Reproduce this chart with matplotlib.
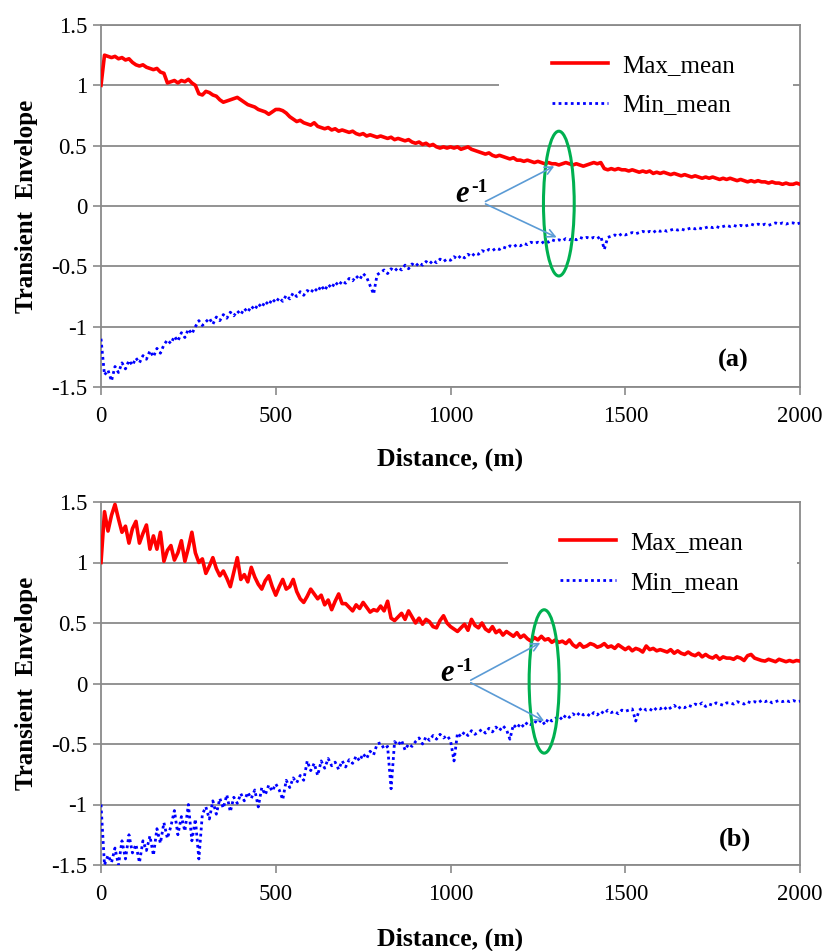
import numpy as np
import matplotlib
matplotlib.use("Agg")
import matplotlib.pyplot as plt
from matplotlib.patches import Ellipse, Rectangle

plt.rcParams['font.family'] = ['Liberation Serif', 'DejaVu Serif']

# ---------------- data ----------------
distance = np.arange(0, 2001, 10)

top_max = [
    1.00, 1.25, 1.24, 1.23, 1.24, 1.22, 1.23, 1.21, 1.22, 1.19,
    1.17, 1.16, 1.17, 1.15, 1.14, 1.13, 1.14, 1.11, 1.10, 1.02,
    1.03, 1.04, 1.02, 1.04, 1.03, 1.05, 1.02, 1.00, 0.93, 0.92,
    0.95, 0.94, 0.92, 0.91, 0.88, 0.86, 0.87, 0.88, 0.89, 0.90,
    0.88, 0.86, 0.84, 0.83, 0.82, 0.80, 0.79, 0.78, 0.76, 0.78,
    0.80, 0.80, 0.79, 0.77, 0.74, 0.72, 0.70, 0.71, 0.69, 0.68,
    0.67, 0.69, 0.66, 0.65, 0.64, 0.65, 0.63, 0.64, 0.62, 0.63,
    0.62, 0.61, 0.62, 0.60, 0.59, 0.60, 0.58, 0.59, 0.58, 0.57,
    0.58, 0.57, 0.56, 0.57, 0.55, 0.56, 0.55, 0.54, 0.55, 0.53,
    0.52, 0.53, 0.51, 0.52, 0.50, 0.51, 0.49, 0.48, 0.49, 0.48,
    0.49, 0.48, 0.49, 0.47, 0.48, 0.49, 0.47, 0.46, 0.45, 0.44,
    0.43, 0.44, 0.42, 0.41, 0.42, 0.41, 0.40, 0.39, 0.40, 0.38,
    0.38, 0.37, 0.38, 0.37, 0.36, 0.37, 0.36, 0.35, 0.36, 0.35,
    0.35, 0.34, 0.35, 0.36, 0.35, 0.34, 0.35, 0.34, 0.33, 0.34,
    0.35, 0.36, 0.35, 0.36, 0.31, 0.30, 0.31, 0.30, 0.31, 0.30,
    0.30, 0.29, 0.30, 0.29, 0.28, 0.29, 0.28, 0.29, 0.27, 0.28,
    0.27, 0.28, 0.27, 0.26, 0.27, 0.26, 0.25, 0.26, 0.25, 0.24,
    0.25, 0.24, 0.23, 0.24, 0.23, 0.24, 0.23, 0.22, 0.23, 0.22,
    0.23, 0.22, 0.21, 0.22, 0.21, 0.20, 0.21, 0.20, 0.21, 0.20,
    0.20, 0.19, 0.20, 0.19, 0.19, 0.18, 0.19, 0.18, 0.18, 0.19,
    0.18,
]

top_min = [
    -1.10, -1.40, -1.36, -1.45, -1.33, -1.38, -1.30, -1.35, -1.28, -1.32,
    -1.26, -1.30, -1.24, -1.27, -1.20, -1.25, -1.18, -1.22, -1.15, -1.11,
    -1.14, -1.08, -1.12, -1.05, -1.09, -1.02, -1.06, -1.00, -0.95, -0.99,
    -0.96, -0.93, -0.98, -0.92, -0.95, -0.90, -0.93, -0.88, -0.91, -0.87,
    -0.90, -0.85, -0.88, -0.83, -0.86, -0.81, -0.84, -0.79, -0.82, -0.77,
    -0.80, -0.76, -0.79, -0.74, -0.77, -0.72, -0.75, -0.71, -0.74, -0.70,
    -0.72, -0.68, -0.71, -0.66, -0.70, -0.65, -0.68, -0.63, -0.66, -0.62,
    -0.64, -0.60, -0.62, -0.58, -0.61, -0.56, -0.59, -0.66, -0.73, -0.57,
    -0.55, -0.53, -0.56, -0.52, -0.54, -0.51, -0.53, -0.49, -0.52, -0.48,
    -0.50, -0.47, -0.49, -0.46, -0.48, -0.45, -0.47, -0.44, -0.46, -0.44,
    -0.45, -0.42, -0.44, -0.41, -0.43, -0.40, -0.42, -0.39, -0.40, -0.37,
    -0.38, -0.36, -0.37, -0.35, -0.36, -0.34, -0.35, -0.33, -0.34, -0.32,
    -0.33, -0.31, -0.32, -0.30, -0.31, -0.30, -0.31, -0.29, -0.30, -0.28,
    -0.29, -0.28, -0.29, -0.27, -0.28, -0.27, -0.28, -0.26, -0.27, -0.26,
    -0.27, -0.26, -0.27, -0.25, -0.36, -0.26, -0.25, -0.24, -0.25, -0.23,
    -0.24, -0.23, -0.22, -0.23, -0.22, -0.21, -0.22, -0.21, -0.22, -0.20,
    -0.21, -0.20, -0.21, -0.20, -0.19, -0.20, -0.19, -0.20, -0.19, -0.18,
    -0.19, -0.18, -0.19, -0.18, -0.17, -0.18, -0.17, -0.18, -0.17, -0.16,
    -0.17, -0.16, -0.17, -0.16, -0.17, -0.16, -0.15, -0.16, -0.15, -0.16,
    -0.15, -0.16, -0.15, -0.14, -0.15, -0.14, -0.15, -0.14, -0.14, -0.15,
    -0.14,
]

bottom_max = [
    1.00, 1.42, 1.26, 1.39, 1.48, 1.36, 1.25, 1.30, 1.16, 1.28,
    1.34, 1.16, 1.24, 1.31, 1.11, 1.22, 1.11, 1.25, 1.01, 1.10,
    1.14, 1.02, 1.08, 1.18, 1.01, 1.12, 1.25, 1.08, 1.00, 1.03,
    0.91, 0.97, 1.04, 0.95, 0.89, 0.93, 0.87, 0.80, 0.92, 1.04,
    0.86, 0.90, 0.84, 0.96, 0.88, 0.82, 0.78, 0.85, 0.89, 0.80,
    0.73, 0.80, 0.86, 0.78, 0.80, 0.86, 0.76, 0.70, 0.67, 0.72,
    0.78, 0.74, 0.70, 0.73, 0.65, 0.69, 0.61, 0.68, 0.74, 0.66,
    0.66, 0.63, 0.60, 0.65, 0.62, 0.67, 0.63, 0.59, 0.61, 0.60,
    0.64, 0.60, 0.68, 0.54, 0.52, 0.55, 0.58, 0.53, 0.60, 0.55,
    0.50, 0.54, 0.49, 0.53, 0.51, 0.47, 0.46, 0.52, 0.56, 0.50,
    0.47, 0.45, 0.43, 0.46, 0.49, 0.44, 0.53, 0.48, 0.46, 0.50,
    0.45, 0.43, 0.47, 0.42, 0.44, 0.40, 0.43, 0.41, 0.39, 0.42,
    0.38, 0.40, 0.37, 0.35, 0.38, 0.36, 0.39, 0.36, 0.37, 0.34,
    0.36, 0.34, 0.35, 0.33, 0.36, 0.32, 0.30, 0.33, 0.30, 0.31,
    0.33, 0.32, 0.30, 0.31, 0.33, 0.30, 0.31, 0.29, 0.32, 0.30,
    0.28, 0.30, 0.27, 0.29, 0.28, 0.26, 0.31, 0.28, 0.29, 0.27,
    0.28, 0.27, 0.26, 0.28, 0.25, 0.27, 0.25, 0.24, 0.26, 0.24,
    0.23, 0.25, 0.22, 0.24, 0.22, 0.21, 0.23, 0.20, 0.22, 0.21,
    0.21, 0.20, 0.22, 0.21, 0.19, 0.23, 0.24, 0.21, 0.20, 0.19,
    0.185, 0.20, 0.19, 0.18, 0.20, 0.19, 0.18, 0.19, 0.18, 0.19,
    0.185,
]

bottom_min = [
    -1.00, -1.50, -1.42, -1.48, -1.36, -1.50, -1.30, -1.45, -1.25, -1.40,
    -1.33, -1.48, -1.30, -1.38, -1.26, -1.42, -1.20, -1.32, -1.15, -1.28,
    -1.18, -1.05, -1.25, -1.10, -1.22, -1.00, -1.30, -1.12, -1.45, -1.08,
    -1.02, -1.12, -0.97, -1.08, -0.95, -1.03, -0.92, -1.06, -0.94, -0.99,
    -0.91, -0.97, -0.90, -0.95, -0.88, -1.02, -0.86, -0.92, -0.84, -0.89,
    -0.83, -0.88, -0.96, -0.80, -0.86, -0.78, -0.82, -0.76, -0.80, -0.64,
    -0.72, -0.66, -0.76, -0.64, -0.70, -0.62, -0.68, -0.65, -0.71, -0.64,
    -0.69, -0.63, -0.66, -0.60, -0.64, -0.58, -0.62, -0.56, -0.59, -0.50,
    -0.49, -0.54, -0.52, -0.87, -0.48, -0.51, -0.47, -0.55, -0.50, -0.52,
    -0.48, -0.45, -0.50, -0.44, -0.47, -0.43, -0.46, -0.42, -0.45, -0.43,
    -0.47, -0.64, -0.41, -0.44, -0.40, -0.43, -0.39, -0.42, -0.40, -0.38,
    -0.41, -0.37, -0.40, -0.36, -0.39, -0.35, -0.38, -0.46, -0.34, -0.37,
    -0.33, -0.36, -0.32, -0.34, -0.31, -0.33, -0.30, -0.34, -0.29, -0.31,
    -0.29, -0.27, -0.30, -0.26, -0.28, -0.25, -0.27, -0.24, -0.26, -0.25,
    -0.27, -0.24, -0.26, -0.23, -0.25, -0.22, -0.24, -0.23, -0.25, -0.22,
    -0.23, -0.22, -0.21, -0.31, -0.22, -0.20, -0.22, -0.21, -0.23, -0.20,
    -0.21, -0.19, -0.22, -0.20, -0.18, -0.21, -0.19, -0.20, -0.18, -0.19,
    -0.17, -0.18, -0.16, -0.19, -0.17, -0.18, -0.16, -0.17, -0.18, -0.16,
    -0.16, -0.17, -0.15, -0.16, -0.17, -0.15, -0.16, -0.15, -0.16, -0.14,
    -0.15, -0.14, -0.16, -0.15, -0.14, -0.15, -0.14, -0.15, -0.14, -0.15,
    -0.146,
]

x_ticks = [0, 500, 1000, 1500, 2000]
y_ticks = [-1.5, -1, -0.5, 0, 0.5, 1, 1.5]
y_ticklabels = ['-1.5', '-1', '-0.5', '0', '0.5', '1', '1.5']
series_labels = ['Max_mean', 'Min_mean']
panel_labels = ['(a)', '(b)']

# annotation geometry per panel (data coords)
ellipse_center = [(1310, 0.02), (1268, 0.017)]
ellipse_size = [(88, 1.20), (86, 1.185)]
arrow_origin = [(1093, 0.027), (1051, 0.017)]
arrow_tip_up = [(1304, 0.34), (1264, 0.347)]
arrow_tip_down = [(1311, -0.27), (1275, -0.32)]
e_text_pos = [(1013, 0.03), (970, 0.02)]
panel_label_pos = [(1808, -1.284), (1815, -1.29)]

GRID = '#8a8a8a'
W, H = 825, 951

fig = plt.figure(figsize=(W / 100, H / 100), dpi=100)
ax1 = fig.add_axes([101 / W, 1 - 387 / H, 699 / W, 362 / H])
ax2 = fig.add_axes([101 / W, 1 - 865 / H, 699 / W, 363 / H])

mask_x = [(0.569, 0.990), (0.582, 0.996)]
legend_anchor = [0.645, 0.657]
xlabel_pad = [14.5, 16]

datasets = [(top_max, top_min), (bottom_max, bottom_min)]

for i, ax in enumerate([ax1, ax2]):
    mx, mn = datasets[i]
    ax.set_axisbelow(True)
    ax.grid(axis='y', color=GRID, linewidth=1.3)
    ax.grid(axis='x', visible=False)
    l1, = ax.plot(distance, mx, color='#ff0000', linewidth=2.6, zorder=3,
                  label=series_labels[0])
    l2, = ax.plot(distance, mn, color='#0000ff', linewidth=2.0,
                  linestyle=(0, (1, 1.2)), zorder=3, label=series_labels[1])
    ax.set_xlim(0, 2000)
    ax.set_ylim(-1.5, 1.5)
    ax.set_xticks(x_ticks)
    ax.set_yticks(y_ticks)
    ax.set_yticklabels(y_ticklabels)
    ax.tick_params(axis='x', direction='out', length=6, width=1.2, color=GRID,
                   labelsize=16.5, pad=8)
    ax.tick_params(axis='y', direction='out', length=6, width=1.2, color=GRID,
                   labelsize=16.5, pad=4)
    for s in ['left', 'bottom', 'right', 'top']:
        ax.spines[s].set_color(GRID)
        ax.spines[s].set_linewidth(1.3)

    # white backing behind legend hides the gridline
    x0, x1 = mask_x[i]
    ax.add_patch(Rectangle((x0, 0.80), x1 - x0, 0.07, transform=ax.transAxes,
                           facecolor='white', edgecolor='none', zorder=1))

    leg = ax.legend(handles=[l1, l2], loc='center left',
                    bbox_to_anchor=(legend_anchor[i], 5 / 6), frameon=False,
                    fontsize=18, handlelength=2.25, handletextpad=0.55,
                    labelspacing=0.69, borderpad=0, borderaxespad=0)
    leg.get_lines()[0].set_linewidth(2.6)
    leg.get_lines()[1].set_linewidth(2.0)

    ax.set_ylabel('Transient  Envelope', fontsize=18, fontweight='bold',
                  labelpad=9)
    ax.set_xlabel('Distance, (m)', fontsize=18.5, fontweight='bold',
                  labelpad=xlabel_pad[i])

    # green ellipse
    cx, cy = ellipse_center[i]
    ew, eh = ellipse_size[i]
    ax.add_patch(Ellipse((cx, cy), ew, eh, facecolor='none',
                         edgecolor='#00b050', linewidth=2.2, zorder=4))

    # arrows
    for tip in (arrow_tip_up[i], arrow_tip_down[i]):
        ax.annotate('', xy=tip, xytext=arrow_origin[i],
                    arrowprops=dict(arrowstyle='->', color='#5b9bd5',
                                    linewidth=1.2, mutation_scale=14),
                    zorder=5)

    ex, ey = e_text_pos[i]
    ax.text(ex, ey, 'e', fontsize=22, fontweight='bold', style='italic',
            ha='left', va='baseline', zorder=6)
    ax.annotate('-1', xy=(ex, ey), xytext=(11.5, 7.5),
                textcoords='offset points', fontsize=14, fontweight='bold',
                ha='left', va='baseline', zorder=6)

    px, py = panel_label_pos[i]
    ax.text(px, py, panel_labels[i], fontsize=19, fontweight='bold',
            ha='center', va='center', zorder=6)

fig.savefig('out.png', dpi=100)
